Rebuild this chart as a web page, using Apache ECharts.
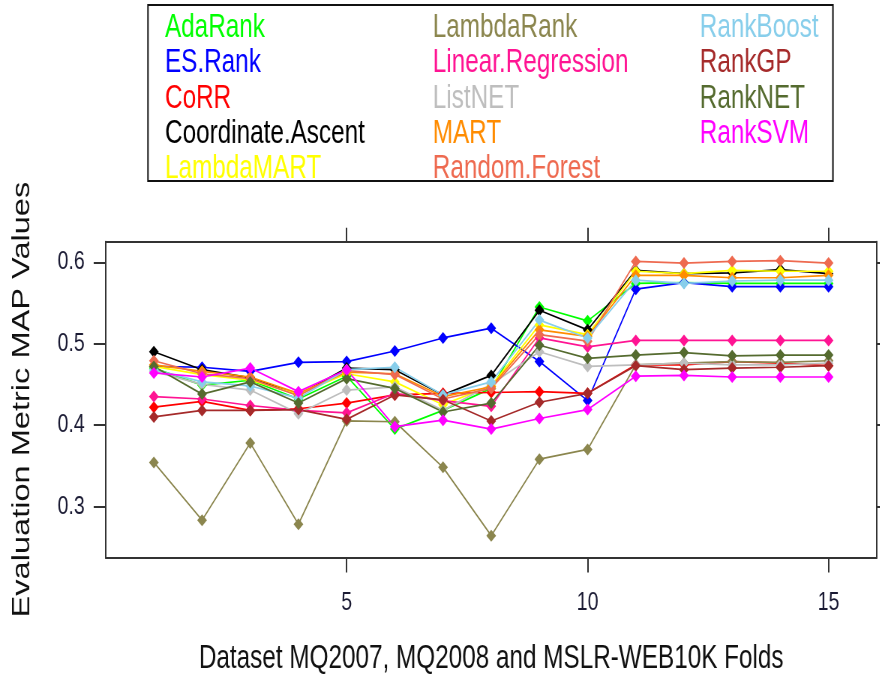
<!DOCTYPE html>
<html>
<head>
<meta charset="utf-8">
<script src="https://cdn.jsdelivr.net/npm/echarts@6/dist/echarts.min.js"></script>
<style>
html,body{margin:0;padding:0;background:#fff;overflow:hidden;}
#wrap{width:880px;height:679px;overflow:hidden;position:relative;}
#main{width:1173.33px;height:679px;transform:scaleX(0.75);transform-origin:0 0;position:absolute;left:0;top:0;}
</style>
</head>
<body>
<div id="wrap"><div id="main"></div></div>
<script>
const folds = [1,2,3,4,5,6,7,8,9,10,11,12,13,14,15];
const xTicks = [5,10,15];
const yTicks = [0.3,0.4,0.5,0.6];

const seriesNames = ["AdaRank","ES.Rank","CoRR","Coordinate.Ascent","LambdaMART","LambdaRank","Linear.Regression","ListNET","MART","Random.Forest","RankBoost","RankGP","RankNET","RankSVM"];
const seriesColors = ["#00FF00","#0000FF","#FF0000","#000000","#FFFF00","#8B864E","#FF1493","#BEBEBE","#FF8C00","#EE6A50","#87CEEB","#A52A2A","#556B2F","#FF00FF"];

const adaRank         = [0.470,0.449,0.455,0.432,0.460,0.395,0.418,0.445,0.545,0.528,0.574,0.575,0.574,0.574,0.574];
const esRank          = [0.472,0.471,0.466,0.477,0.478,0.491,0.507,0.519,0.478,0.430,0.567,0.575,0.570,0.570,0.570];
const corr            = [0.422,0.429,0.418,0.420,0.427,0.437,0.439,0.440,0.441,0.439,0.474,0.474,0.478,0.476,0.473];
const coordAscent     = [0.490,0.468,0.458,0.437,0.470,0.468,0.437,0.461,0.541,0.517,0.590,0.586,0.587,0.591,0.586];
const lambdaMART      = [0.472,0.462,0.455,0.438,0.463,0.453,0.425,0.448,0.523,0.511,0.589,0.586,0.590,0.589,0.589];
const lambdaRank      = [0.354,0.283,0.378,0.278,0.405,0.404,0.348,0.264,0.358,0.370,0.474,0.476,0.478,0.477,0.479];
const linearRegression= [0.435,0.432,0.424,0.418,0.415,0.439,0.430,0.423,0.507,0.496,0.504,0.504,0.504,0.504,0.504];
const listNET         = [0.466,0.450,0.443,0.414,0.443,0.447,0.418,0.450,0.490,0.472,0.474,0.476,0.474,0.474,0.476];
const mart            = [0.474,0.466,0.459,0.439,0.465,0.463,0.435,0.447,0.517,0.509,0.584,0.584,0.581,0.581,0.584];
const randomForest    = [0.479,0.463,0.457,0.436,0.467,0.462,0.432,0.445,0.511,0.503,0.601,0.599,0.601,0.602,0.599];
const rankBoost       = [0.468,0.453,0.448,0.433,0.468,0.471,0.437,0.453,0.529,0.507,0.578,0.574,0.577,0.578,0.578];
const rankGP          = [0.410,0.418,0.418,0.419,0.407,0.437,0.431,0.405,0.428,0.439,0.473,0.468,0.470,0.471,0.473];
const rankNET         = [0.472,0.438,0.453,0.427,0.457,0.445,0.416,0.427,0.498,0.482,0.486,0.489,0.485,0.486,0.486];
const rankSVM         = [0.464,0.459,0.470,0.441,0.468,0.398,0.406,0.395,0.408,0.419,0.460,0.461,0.459,0.459,0.459];

const seriesValues = [adaRank,esRank,corr,coordAscent,lambdaMART,lambdaRank,linearRegression,listNET,mart,randomForest,rankBoost,rankGP,rankNET,rankSVM];

const FONT = "'Liberation Sans',Arial,Helvetica,sans-serif";
const axisCol = '#333333';

const chart = echarts.init(document.getElementById('main'), null, {renderer:'canvas'});

const series = seriesNames.map((name,i)=>({
  name: name,
  type: 'line',
  xAxisIndex: 0,
  yAxisIndex: 0,
  data: folds.map((f,j)=>[f, seriesValues[i][j]]),
  symbol: 'diamond',
  symbolSize: [13,12],
  showSymbol: true,
  lineStyle: {color: seriesColors[i], width: 1.7},
  itemStyle: {color: seriesColors[i]},
  emphasis: {disabled: true},
  animation: false
}));

function legendCol(names, left){
  return {
    show: true,
    orient: 'vertical',
    left: left, top: 12,
    padding: 0,
    itemWidth: 0, itemHeight: 10,
    itemGap: 3.3,
    icon: 'none',
    selectedMode: false,
    data: names.map(n=>({name:n, icon:'none', textStyle:{color: seriesColors[seriesNames.indexOf(n)]}})),
    textStyle: {fontFamily: FONT, fontSize: 32.4, lineHeight: 32, padding: 0}
  };
}

const axisBase = {
  type: 'value',
  axisLine: {show: true, onZero: false, lineStyle: {color: axisCol, width: 2}},
  splitLine: {show: false},
  axisPointer: {show: false}
};

const option = {
  backgroundColor: '#ffffff',
  animation: false,
  legend: [
    legendCol(seriesNames.slice(0,5), 215),
    legendCol(seriesNames.slice(5,10), 572),
    legendCol(seriesNames.slice(10,14), 928)
  ],
  graphic: [{
    type: 'rect',
    shape: {x: 197.3, y: 5, width: 913.3, height: 176},
    style: {fill: 'none', stroke: '#111', lineWidth: 2},
    silent: true, z: 100
  }],
  grid: {left: 140.9, right: 4, top: 241.7, bottom: 121.5, show: false},
  xAxis: [
    Object.assign({}, axisBase, {
      min: 0, max: 16, position: 'bottom',
      axisTick: {show: true, customValues: xTicks, length: 15, inside: false, lineStyle: {color: axisCol, width: 2}},
      axisLabel: {show: true, customValues: xTicks, margin: 32, color: '#1a1a33', fontFamily: FONT, fontSize: 26},
      name: 'Dataset MQ2007, MQ2008 and MSLR-WEB10K Folds',
      nameLocation: 'middle', nameGap: 86,
      nameTextStyle: {color: '#111', fontFamily: FONT, fontSize: 32.4}
    }),
    Object.assign({}, axisBase, {
      min: 0, max: 16, position: 'top',
      axisTick: {show: true, customValues: xTicks, length: 14, inside: false, lineStyle: {color: axisCol, width: 2}},
      axisLabel: {show: false}
    })
  ],
  yAxis: [
    Object.assign({}, axisBase, {
      min: 0.2372, max: 0.6253, position: 'left',
      axisTick: {show: true, customValues: yTicks, length: 16, inside: false, lineStyle: {color: axisCol, width: 2}},
      axisLabel: {show: true, customValues: yTicks, margin: 28, color: '#1a1a33', fontFamily: FONT, fontSize: 26,
        formatter: v => Number(v).toFixed(1)},
      name: 'Evaluation Metric MAP Values',
      nameLocation: 'middle', nameGap: 94, nameRotate: 90,
      nameTextStyle: {color: '#111', fontFamily: FONT, fontSize: 32.6}
    }),
    Object.assign({}, axisBase, {
      min: 0.2372, max: 0.6253, position: 'right',
      axisTick: {show: true, customValues: yTicks, length: 16, inside: false, lineStyle: {color: axisCol, width: 2}},
      axisLabel: {show: false}
    })
  ],
  series: series
};
chart.setOption(option);
</script>
</body>
</html>
